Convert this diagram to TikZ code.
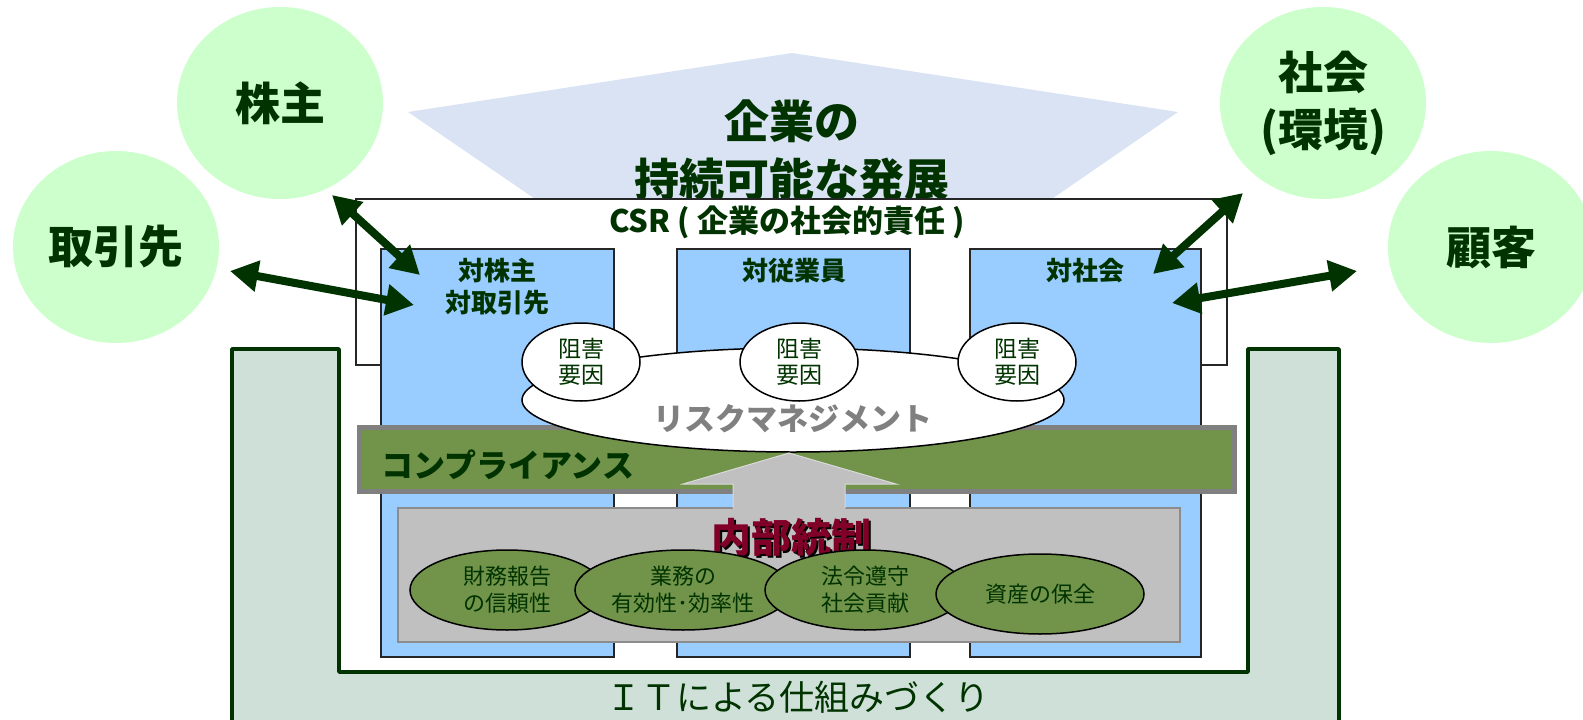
\documentclass[tikz,border=0pt]{standalone}
\usepackage{fontspec}
\setmainfont{Noto Sans CJK JP}
\usetikzlibrary{shapes.geometric,arrows.meta}
\definecolor{dkgreen}{HTML}{003300}
\definecolor{circfill}{HTML}{CCFFCC}
\definecolor{roof}{HTML}{DAE3F3}
\definecolor{colblue}{HTML}{99CCFF}
\definecolor{olive}{HTML}{71934A}
\definecolor{boxgray}{HTML}{C0C0C0}
\definecolor{ufill}{HTML}{CEE0D7}
\definecolor{maroon}{HTML}{800028}
\newcommand\fsz[2]{\fontsize{#1}{#2}\selectfont}
\begin{document}
\begin{tikzpicture}[x=1pt,y=-1pt,
  stake/.style={ellipse, fill=circfill, minimum width=206, minimum height=192, inner sep=0, text=dkgreen, font=\fsz{45}{57}\bfseries, align=center},
  biarrow/.style={draw=dkgreen, line width=8, {Triangle[length=28pt,width=30pt]}-{Triangle[length=28pt,width=30pt]}},
  colbox/.style={rectangle, fill=colblue, draw=black!85, line width=1.5, minimum height=408, inner sep=0},
  collabel/.style={text=dkgreen, font=\fsz{26}{32}\bfseries, align=center, inner sep=0},
  hinder/.style={ellipse, fill=white, draw=black, line width=1.5, minimum width=118, minimum height=78, inner sep=0, text=dkgreen, font=\fsz{23}{26}, align=center},
  ictrl/.style={ellipse, fill=olive, draw=black, line width=1.5, minimum height=80, inner sep=0, text=dkgreen, font=\fsz{22}{27}, align=center}
]
\useasboundingbox (0,0) rectangle (1583,720);
\clip (0,0) rectangle (1583,720);
% roof
\fill[roof] (408,112) -- (792,53) -- (1178,112) -- (1043,205) -- (544,205) -- cycle;
\node[text=dkgreen, font=\fsz{45}{58}\bfseries, align=center, inner sep=0] (goal) at (792,150) {企業の\\持続可能な発展};
% stakeholders
\node[stake] (kabu) at (280,103) {株主};
\node[stake] (tori) at (116,247) {取引先};
\node[stake] (shakai) at (1323,103) {社会\\(環境)};
\node[stake] (kokyaku) at (1491,247) {顧客};
% U shape IT
\draw[fill=ufill, draw=dkgreen, line width=3.5, line join=round]
  (232,349) -- (339,349) -- (339,672) -- (1248,672) -- (1248,349) -- (1339,349) -- (1339,740) -- (232,740) -- cycle;
\node[text=dkgreen, font=\fsz{35}{40}, inner sep=0] (it) at (798,697) {ＩＴによる仕組みづくり};
% CSR box
\node[rectangle, fill=white, draw=black!85, line width=1.5, minimum width=871, minimum height=166, inner sep=0] (csr) at (791.5,282) {};
\node[text=dkgreen, font=\fsz{31}{36}\bfseries, inner sep=0] (csrlabel) at (787,222) {CSR ( 企業の社会的責任 )};
% columns
\node[colbox, minimum width=233] (col1) at (497.5,453) {};
\node[colbox, minimum width=233] (col2) at (793.5,453) {};
\node[colbox, minimum width=231] (col3) at (1085.5,453) {};
\node[collabel, anchor=north] (l1) at (497.5,258) {対株主\\対取引先};
\node[collabel, anchor=north] (l2) at (794,258) {対従業員};
\node[collabel, anchor=north] (l3) at (1085.5,258) {対社会};
% arrows
\coordinate (a1s) at (332,195); \coordinate (a1e) at (420,275);
\coordinate (a2s) at (230,271); \coordinate (a2e) at (414,305);
\coordinate (a3s) at (1243,193); \coordinate (a3e) at (1153,274);
\coordinate (a4s) at (1357,271); \coordinate (a4e) at (1172,303);
\draw[biarrow] (a1s) -- (a1e);
\draw[biarrow] (a2s) -- (a2e);
\draw[biarrow] (a3s) -- (a3e);
\draw[biarrow] (a4s) -- (a4e);
% compliance bar
\node[rectangle, fill=olive, draw=black!50, line width=5, minimum width=875, minimum height=64, inner sep=0] (comp) at (797,459.5) {};
\node[text=dkgreen, font=\fsz{32}{36}\bfseries, anchor=west, inner sep=0] (complabel) at (381,465) {コンプライアンス};
% risk management
\node[ellipse, fill=white, draw=black, line width=1.5, minimum width=542, minimum height=104, inner sep=0] (risk) at (793,400) {};
\node[text=black!50, font=\fsz{31}{36}\bfseries, inner sep=0] (risklabel) at (793,419) {リスクマネジメント};
\node[hinder] (h1) at (581,362) {阻害\\要因};
\node[hinder] (h2) at (799,362) {阻害\\要因};
\node[hinder] (h3) at (1017,362) {阻害\\要因};
% internal control box
\node[rectangle, fill=boxgray, draw=black!45, line width=1.5, minimum width=782, minimum height=134, inner sep=0] (ic) at (789,575) {};
\fill[boxgray] (733,510) -- (733,484) -- (683,484) -- (789,453) -- (896,484) -- (845,484) -- (845,510) -- cycle;
\draw[white!85!black, line width=1] (733,508) -- (733,484) -- (683,484) -- (789,453) -- (896,484) -- (845,484) -- (845,508);
\node[text=black, font=\fsz{40}{44}\bfseries, inner sep=0] (icshadow) at (793,539) {内部統制};
\node[text=maroon, font=\fsz{40}{44}\bfseries, inner sep=0] (iclabel) at (791,537) {内部統制};
\node[ictrl, minimum width=194] (e1) at (507,590) {財務報告\\の信頼性};
\node[ictrl, minimum width=216] (e2) at (683,590) {業務の\\有効性･効率性};
\node[ictrl, minimum width=200] (e3) at (865,590) {法令遵守\\社会貢献};
\node[ictrl, minimum width=208] (e4) at (1040,594) {資産の保全};
\end{tikzpicture}
\end{document}
